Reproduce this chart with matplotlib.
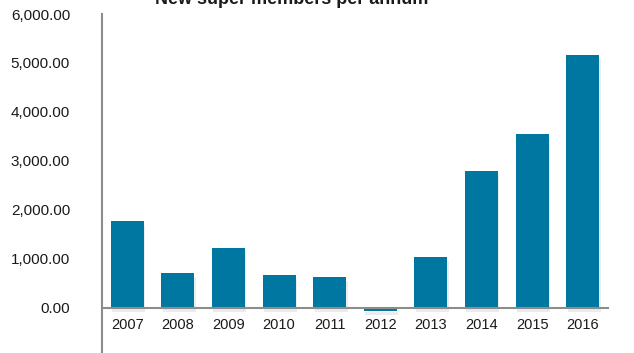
import matplotlib.pyplot as plt
import matplotlib.patheffects as pe
from matplotlib.ticker import FuncFormatter

# Data
years = ["2007", "2008", "2009", "2010", "2011", "2012", "2013", "2014", "2015", "2016"]
members = [1775, 714, 1224, 673, 633, -55, 1041, 2796, 3551, 5163]
y_ticks = [0, 1000, 2000, 3000, 4000, 5000, 6000]

plt.rcParams['font.family'] = ['Liberation Sans', 'DejaVu Sans']

fig = plt.figure(figsize=(6.34, 3.53), dpi=100)
ax = fig.add_axes([102 / 634, 0.0, (608 - 102) / 634, (353 - 14) / 353])

bars = ax.bar(range(len(years)), members, width=0.65, color='#0077a0', zorder=2)
for b in bars:
    b.set_path_effects([pe.SimplePatchShadow(offset=(1, -3), alpha=0.12, shadow_rgbFace='#666666'),
                        pe.Normal()])

ax.set_xlim(-0.5, len(years) - 0.5)
ax.set_ylim(-920, 6000)
ax.set_yticks(y_ticks)
ax.yaxis.set_major_formatter(FuncFormatter(lambda v, p: f"{v:,.2f}"))
ax.set_xticks(range(len(years)))
ax.set_xticklabels(years)

for s in ['top', 'right']:
    ax.spines[s].set_visible(False)
ax.spines['bottom'].set_position(('data', 0))
ax.spines['bottom'].set_color('#8c8c8c')
ax.spines['bottom'].set_linewidth(1.5)
ax.spines['bottom'].set_zorder(3)
ax.spines['left'].set_color('#8c8c8c')
ax.spines['left'].set_linewidth(1.5)

ax.tick_params(axis='y', length=0, pad=23, labelsize=11, labelcolor='#1a1a1a')
ax.tick_params(axis='x', length=0, pad=7, labelsize=10.5, labelcolor='#1a1a1a')

fig.text(292 / 634, 1.0, "New super members per annum", ha='center', va='center',
         fontsize=13, fontweight='bold',
         family=['Liberation Sans Narrow', 'Liberation Sans', 'DejaVu Sans'], color='#1a1a1a')

fig.savefig('out.png', dpi=100)
